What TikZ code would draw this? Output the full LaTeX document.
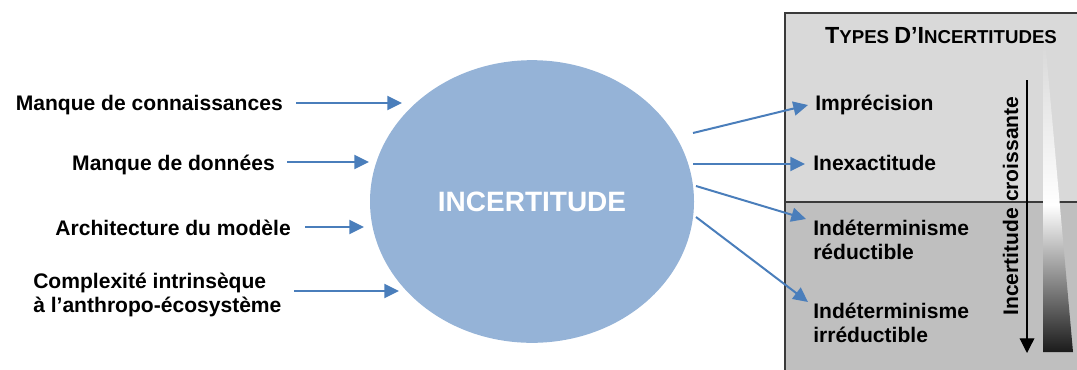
\documentclass[tikz,border=0pt]{standalone}
\usepackage{fontspec}
\setmainfont{Liberation Sans}
\usetikzlibrary{arrows.meta,shapes.geometric}
\definecolor{ellfill}{HTML}{95B3D7}
\definecolor{arrowblue}{HTML}{4A7EBB}
\definecolor{panelhi}{HTML}{D9D9D9}
\definecolor{panello}{HTML}{BFBFBF}
\definecolor{panelline}{HTML}{3A3A3A}
\begin{document}
\begin{tikzpicture}[x=0.75pt,y=-0.75pt,
  lbl/.style={font=\fontsize{15.8}{18}\selectfont\bfseries, inner sep=0pt},
  flow/.style={draw=arrowblue, line width=1.5pt, -{Triangle[length=11pt,width=10.5pt]}},
  bigcap/.style={font=\fontsize{17.5}{20}\selectfont\bfseries},
]
\useasboundingbox (0,0) rectangle (1077,369);

% right-hand panel: types of uncertainty
\fill[panelhi] (785,13) rectangle (1082,202);
\fill[panello] (785,202) rectangle (1082,374);
\draw[panelline, line width=0.8pt] (1082,13) -- (785,13) -- (785,374);
\draw[panelline, line width=0.8pt] (785,202) -- (1082,202);

% shaded wedge
\begin{scope}
  \clip (1043,45) -- (1045.5,45) -- (1073,352) -- (1043,352) -- cycle;
  \shade[top color=panelhi, bottom color=white] (1040,44) rectangle (1076,205);
  \shade[top color=white, bottom color=black!90] (1040,205) rectangle (1076,353);
\end{scope}

% central ellipse
\node[ellipse, fill=ellfill, minimum width=243pt, minimum height=212pt, inner sep=0pt] (core) at (532,201.5) {};
\node[font=\fontsize{21}{24}\selectfont\bfseries, text=white, inner sep=0pt] (coretext) at (532,202) {INCERTITUDE};

% sources
\node[lbl, anchor=base east] (src1) at (283,110) {Manque de connaissances};
\node[lbl, anchor=base east] (src2) at (275,170) {Manque de données};
\node[lbl, anchor=base east] (src3) at (291,235) {Architecture du modèle};
\node[lbl, anchor=base west, align=left] (src4) at (33,312) {Complexité intrinsèque\\à l’anthropo-écosystème};

\coordinate (s1a) at (296,103); \coordinate (s1b) at (402,103);
\coordinate (s2a) at (287,162); \coordinate (s2b) at (369,162);
\coordinate (s3a) at (305,227); \coordinate (s3b) at (364,227);
\coordinate (s4a) at (294,291); \coordinate (s4b) at (399,291);
\draw[flow] (s1a) -- (s1b);
\draw[flow] (s2a) -- (s2b);
\draw[flow] (s3a) -- (s3b);
\draw[flow] (s4a) -- (s4b);

% outputs
\node[bigcap, anchor=base, inner sep=0pt] (title) at (941,43)
  {T\fontsize{14}{20}\selectfont YPES \fontsize{17.5}{20}\selectfont D’I\fontsize{14}{20}\selectfont NCERTITUDES};
\node[lbl, anchor=base west] (t1) at (815,110) {Imprécision};
\node[lbl, anchor=base west] (t2) at (813,170) {Inexactitude};
\node[lbl, anchor=base west, align=left] (t3) at (813,259) {Indéterminisme\\réductible};
\node[lbl, anchor=base west, align=left] (t4) at (813,342) {Indéterminisme\\irréductible};

\coordinate (o1a) at (693,133); \coordinate (o1b) at (808,105);
\coordinate (o2a) at (693,164); \coordinate (o2b) at (805,164);
\coordinate (o3a) at (696,186); \coordinate (o3b) at (806,219);
\coordinate (o4a) at (696,217); \coordinate (o4b) at (808,302);
\draw[flow] (o1a) -- (o1b);
\draw[flow] (o2a) -- (o2b);
\draw[flow] (o3a) -- (o3b);
\draw[flow] (o4a) -- (o4b);

% increasing-uncertainty scale
\coordinate (scaletop) at (1027,80);
\coordinate (scalebot) at (1027,353);
\draw[line width=0.9pt, -{Triangle[length=11pt,width=11pt]}] (scaletop) -- (scalebot);
\node[lbl, rotate=90, anchor=base] (scalelbl) at (1018,206) {Incertitude croissante};
\end{tikzpicture}
\end{document}
